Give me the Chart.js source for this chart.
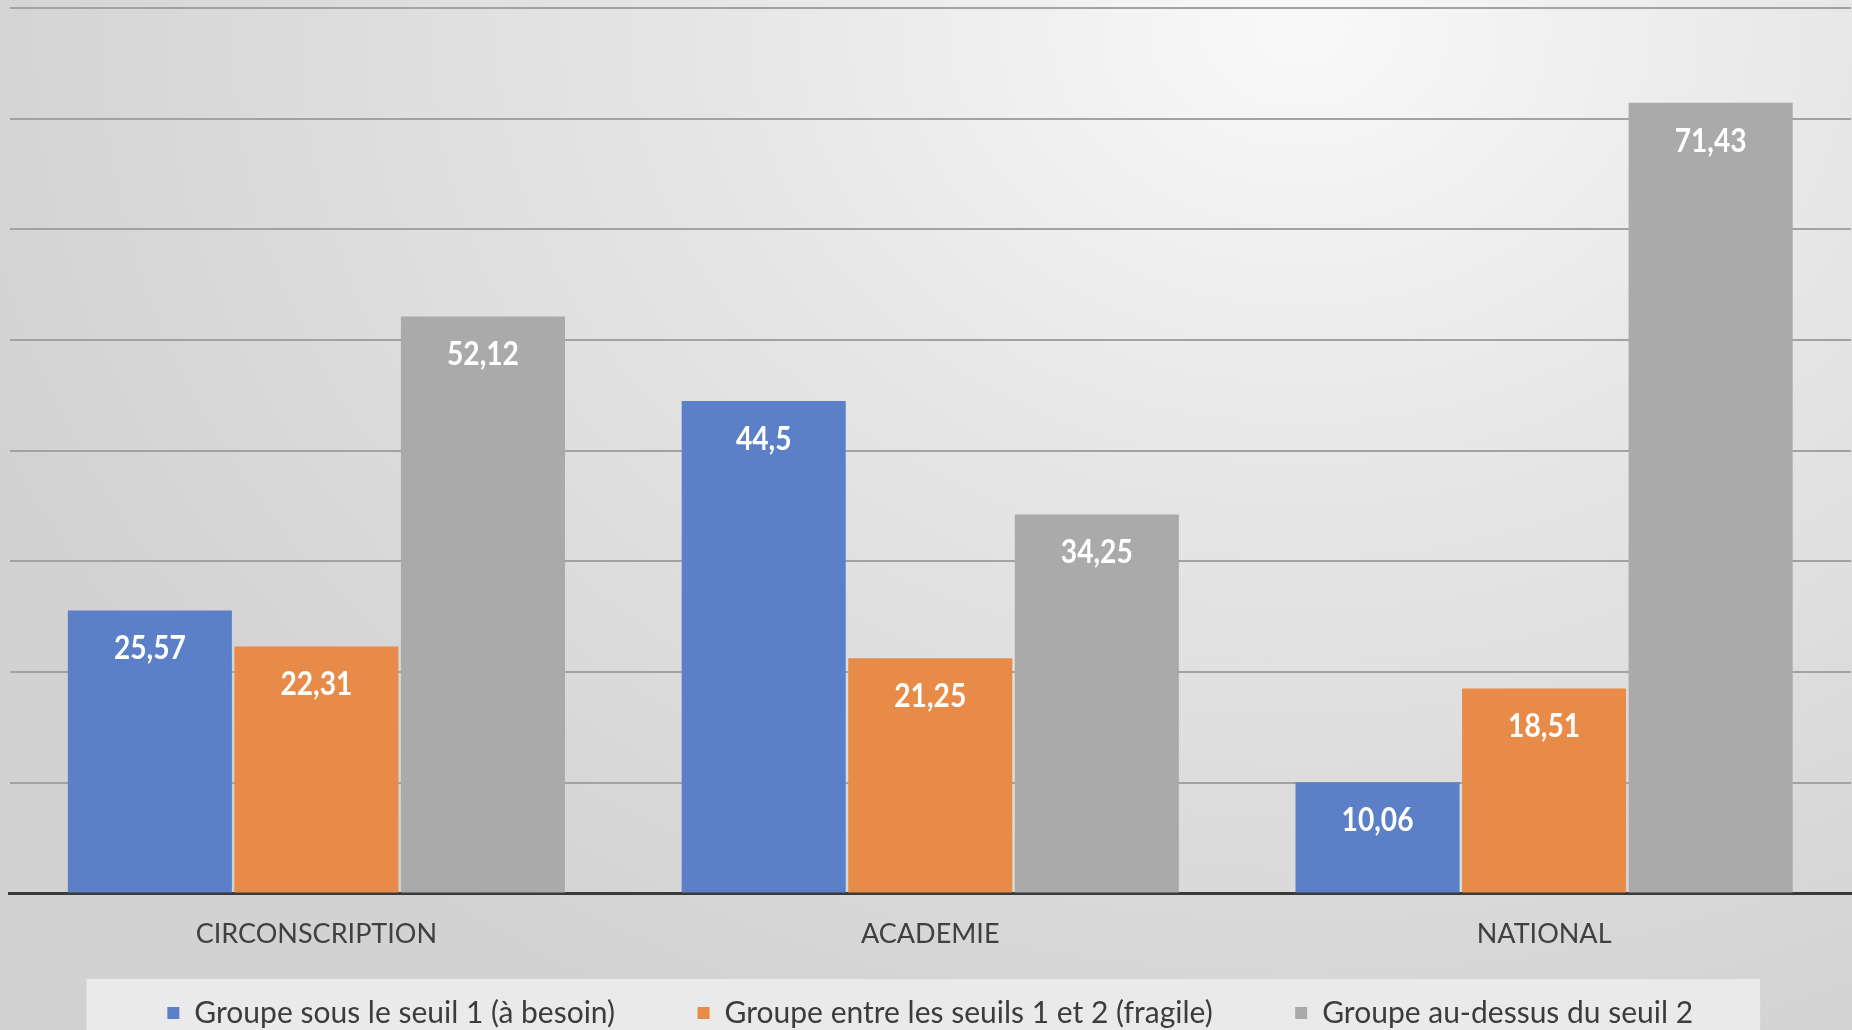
<!DOCTYPE html>
<html>
<head>
<meta charset="utf-8">
<script src="https://cdn.jsdelivr.net/npm/chart.js@4/dist/chart.umd.min.js"></script>
<style>
  html, body { margin: 0; padding: 0; overflow: hidden; width: 1852px; height: 1030px; }
  #graphique {
    display: block;
    background: radial-gradient(ellipse 1400px 1100px at 1300px 30px, #f9f9f9 0%, #e6e6e6 42%, #d2d2d2 100%);
  }
</style>
</head>
<body>
<canvas id="graphique" width="1852" height="1038"></canvas>
<script>
// donnees
var categories = ['CIRCONSCRIPTION', 'ACADEMIE', 'NATIONAL'];
var seriesNoms = ['Groupe sous le seuil 1 (à besoin)', 'Groupe entre les seuils 1 et 2 (fragile)', 'Groupe au-dessus du seuil 2'];
var sousSeuil1 = [25.57, 44.5, 10.06];
var entreSeuils = [22.31, 21.25, 18.51];
var dessusSeuil2 = [52.12, 34.25, 71.43];
var couleurs = ['#5b80c8', '#e98b48', '#aaaaaa'];

var police = 'Lato, "Open Sans", sans-serif';

// etiquettes blanches en haut des barres (un peu resserrees)
var etiquettes = {
    id: 'etiquettes',
    afterDatasetsDraw: function(chart) {
        var ctx = chart.ctx;
        chart.data.datasets.forEach(function(ds, i) {
            chart.getDatasetMeta(i).data.forEach(function(barre, j) {
                var texte = String(ds.data[j]).replace('.', ',');
                ctx.save();
                ctx.translate(barre.x, barre.y + 38.5);
                ctx.scale(0.88, 1);
                ctx.fillStyle = '#ffffff';
                ctx.font = 'bold 32px ' + police;
                ctx.textAlign = 'center';
                ctx.textBaseline = 'middle';
                ctx.fillText(texte, 0, 0);
                ctx.restore();
            });
        });
    }
};

// fond clair derriere la legende
var fondLegende = {
    id: 'fondLegende',
    beforeDraw: function(chart) {
        var boites = chart.legend.legendHitBoxes;
        if (!boites || !boites.length) return;
        var gauche = boites[0].left - 81;
        var derniere = boites[boites.length - 1];
        var droite = derniere.left + derniere.width + 67;
        var ctx = chart.ctx;
        ctx.save();
        ctx.fillStyle = 'rgba(236,236,236,0.9)';
        ctx.fillRect(gauche, boites[0].top + boites[0].height / 2 - 34, droite - gauche, 80);
        ctx.restore();
    }
};

var ctx = document.getElementById('graphique').getContext('2d');
new Chart(ctx, {
    type: 'bar',
    data: {
        labels: categories,
        datasets: [
            { label: seriesNoms[0], data: sousSeuil1, backgroundColor: couleurs[0] },
            { label: seriesNoms[1], data: entreSeuils, backgroundColor: couleurs[1] },
            { label: seriesNoms[2], data: dessusSeuil2, backgroundColor: couleurs[2] }
        ]
    },
    options: {
        responsive: false,
        animation: false,
        devicePixelRatio: 1,
        layout: { padding: { left: 9.5, right: 1, top: 8, bottom: 0 } },
        datasets: {
            bar: { categoryPercentage: 0.814, barPercentage: 0.985 }
        },
        plugins: {
            tooltip: { enabled: false },
            legend: {
                position: 'bottom',
                labels: {
                    boxWidth: 12,
                    boxHeight: 12,
                    padding: 45,
                    color: '#3c3c3c',
                    font: { family: police, size: 30 },
                    generateLabels: function(chart) {
                        var items = Chart.defaults.plugins.legend.labels.generateLabels(chart);
                        // ecart plus large entre les entrees
                        items.forEach(function(it, k) {
                            if (k < items.length - 1) it.text = it.text + '\u2003\u2002';
                        });
                        return items;
                    }
                }
            }
        },
        scales: {
            x: {
                grid: { display: false, drawTicks: false },
                border: { display: true, color: '#3a3a3a', width: 3 },
                ticks: {
                    color: '#404040',
                    padding: 23,
                    font: { family: police, size: 27, lineHeight: 1.32 }
                },
                afterFit: function(scale) { scale.height = 59.5; }
            },
            y: {
                min: 0,
                max: 80,
                ticks: { display: false, stepSize: 10 },
                border: { display: false },
                grid: {
                    drawTicks: false,
                    lineWidth: 2,
                    color: function(c) { return c.tick.value === 0 ? 'rgba(0,0,0,0)' : '#a2a2a2'; }
                }
            }
        }
    },
    plugins: [etiquettes, fondLegende]
});
</script>
</body>
</html>
